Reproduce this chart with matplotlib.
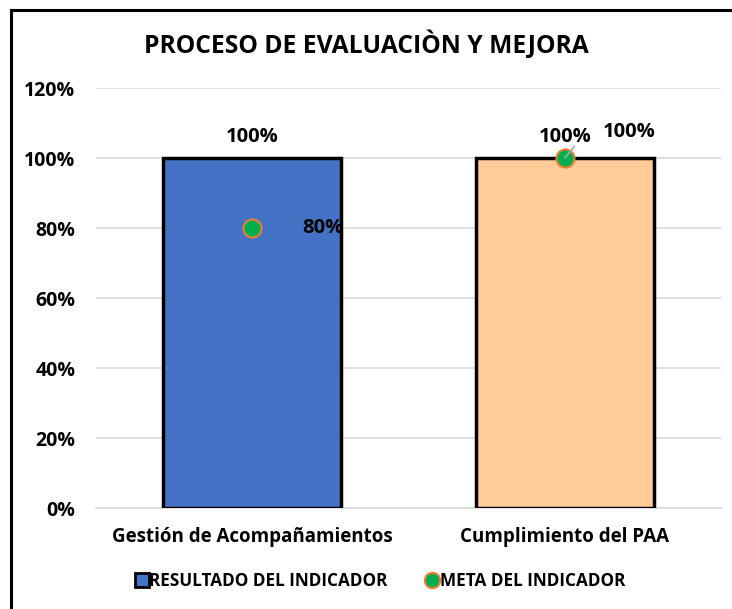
import matplotlib
matplotlib.use("Agg")
import matplotlib.pyplot as plt
from matplotlib.patches import Rectangle
from matplotlib.lines import Line2D

categories = ["Gestión de Acompañamientos", "Cumplimiento del PAA"]
resultado = [1.00, 1.00]
meta = [0.80, 1.00]
bar_colors = ["#4472C4", "#FFCC99"]
yticks = [0, 0.2, 0.4, 0.6, 0.8, 1.0, 1.2]
ytick_labels = ["0%", "20%", "40%", "60%", "80%", "100%", "120%"]
title = "PROCESO DE EVALUACIÒN Y MEJORA"

plt.rcParams['font.family'] = ['Open Sans', 'DejaVu Sans']
plt.rcParams['font.weight'] = 'bold'

W, H = 732, 609
fig = plt.figure(figsize=(W/100, H/100), dpi=100)
ax = fig.add_axes([96/W, 1 - 508/H, (721-96)/W, (508-88)/H])

x = list(range(len(categories)))
ax.bar(x, resultado, width=0.57, color=bar_colors, edgecolor="black", linewidth=2.5, zorder=3)
ax.set_xlim(-0.5, 1.5)
ax.set_ylim(0, 1.2)
ax.set_yticks(yticks)
ax.set_yticklabels(ytick_labels, fontsize=14, fontweight='bold')
ax.set_xticks(x)
ax.set_xticklabels(categories, fontsize=13.5, fontweight='bold')
ax.tick_params(axis='both', length=0)
ax.tick_params(axis='y', pad=15)
ax.tick_params(axis='x', pad=14)
ax.grid(axis='y', color="#D9D9D9", linewidth=1.2, zorder=0)
for s in ["top", "right", "left"]:
    ax.spines[s].set_visible(False)
ax.spines["bottom"].set_color("#D9D9D9")
ax.spines["bottom"].set_linewidth(1.2)

# bar labels
for xi, v in zip(x, resultado):
    ax.annotate(f"{v:.0%}", (xi, v), xytext=(0, 8), textcoords="offset points",
                ha="center", va="bottom", fontsize=14.5, fontweight="bold")

# meta markers
ax.plot(x, meta, linestyle="none", marker="o", markersize=13,
        markerfacecolor="#00B050", markeredgecolor="#ED7D31", markeredgewidth=1.5, zorder=5)
ax.annotate(f"{meta[0]:.0%}", (x[0], meta[0]), xytext=(51, 0), textcoords="offset points",
            ha="center", va="center", fontsize=14.5, fontweight="bold", zorder=6)
ax.annotate(f"{meta[1]:.0%}", (x[1], meta[1]), xytext=(46, 19), textcoords="offset points",
            ha="center", va="center", fontsize=14.5, fontweight="bold", zorder=6,
            arrowprops=dict(arrowstyle="-", color="#A6A6A6", lw=1.2,
                            shrinkA=21, shrinkB=0,
                            connectionstyle="angle,angleA=0,angleB=50,rad=0"))

fig.text(0.5, 1 - 45/H, title, ha="center", va="center", fontsize=17.7, fontweight="bold")

# legend
handles = [Line2D([0], [0], marker="s", linestyle="none", markersize=10,
                  markerfacecolor="#4472C4", markeredgecolor="black", markeredgewidth=2),
           Line2D([0], [0], marker="o", linestyle="none", markersize=11,
                  markerfacecolor="#00B050", markeredgecolor="#ED7D31", markeredgewidth=1.5)]
fig.legend(handles, ["RESULTADO DEL INDICADOR", "META DEL INDICADOR"],
           loc="center", bbox_to_anchor=(380/W, 1 - 581/H), ncol=2, frameon=False,
           prop=dict(size=12.3, weight="bold"), handletextpad=0.05, columnspacing=2.2,
           handlelength=0.8)

# outer border
fig.patches.append(Rectangle((10.5/W, -0.05), 1.0, 1 - 9.5/H + 0.05, transform=fig.transFigure,
                             fill=False, edgecolor="black", linewidth=2.2))

fig.savefig("out.png", dpi=100, facecolor="white")
